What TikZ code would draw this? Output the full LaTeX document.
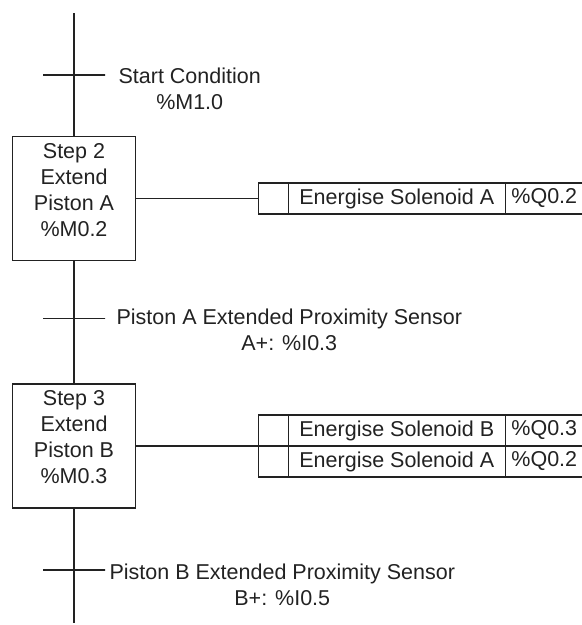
\documentclass[tikz,border=0pt]{standalone}
\usepackage{fontspec}
\setmainfont{Liberation Sans}
\usetikzlibrary{positioning}
\definecolor{ink}{HTML}{222222}

\begin{document}
\begin{tikzpicture}[x=1pt,y=-1pt,line width=1.6pt,
  every node/.style={font=\fontsize{21.5}{26}\selectfont,text=ink,inner sep=0pt},
  stepbox/.style={draw=ink,minimum width=123pt,minimum height=124pt},
  bar/.style={draw=ink,minimum width=62pt,minimum height=0pt},
  cond/.style={align=center,anchor=north west},
  cell/.style={draw=ink,minimum height=31pt,outer sep=0pt}]
\useasboundingbox (0,0) rectangle (582,625);
\coordinate (top) at (74,13);
\coordinate (bot) at (74,623);
\node[bar] (t1) at (74,75) {};
\node[stepbox] (s2) at (74,198.5) {};
\node[bar] (t2) at (74,318.5) {};
\node[stepbox] (s3) at (74,446) {};
\node[bar] (t3) at (74,570) {};
\node[align=center] (s2l) at ([yshift=8.5pt]s2.center) {Step 2\\Extend\\Piston A\\\%M0.2};
\node[align=center] (s3l) at ([yshift=8.5pt]s3.center) {Step 3\\Extend\\Piston B\\\%M0.3};
\node[cond] (c1) at ([xshift=12pt,yshift=8pt]t1.east) {Start Condition\\\%M1.0};
\node[cond] (c2) at ([xshift=10pt,yshift=10pt]t2.east) {Piston A Extended Proximity Sensor\\A+: \%I0.3};
\node[cond] (c3) at ([xshift=3pt,yshift=7pt]t3.east) {Piston B Extended Proximity Sensor\\B+: \%I0.5};
\draw[ink] (top) -- (t1.center) -- (s2.north);
\draw[ink] (s2.south) -- (t2.center) -- (s3.north);
\draw[ink] (s3.south) -- (t3.center) -- (bot);
\node[cell,minimum width=30pt,right=122pt of s2] (a2e) {};
\node[cell,minimum width=217pt,right=0pt of a2e] (a2t) {Energise Solenoid A};
\node[cell,minimum width=78pt,right=0pt of a2t] (a2q) {\%Q0.2};
\draw[ink] (s2.east) -- (a2e.west);
\node[cell,minimum width=30pt,anchor=south west] (a3e1) at ([xshift=122pt]s3.east) {};
\node[cell,minimum width=30pt,below=0pt of a3e1] (a3e2) {};
\node[cell,minimum width=217pt,right=0pt of a3e1] (a3t1) {Energise Solenoid B};
\node[cell,minimum width=78pt,right=0pt of a3t1] (a3q1) {\%Q0.3};
\node[cell,minimum width=217pt,right=0pt of a3e2] (a3t2) {Energise Solenoid A};
\node[cell,minimum width=78pt,right=0pt of a3t2] (a3q2) {\%Q0.2};
\draw[ink] (s3.east) -- (a3e1.south west);
\end{tikzpicture}
\end{document}
